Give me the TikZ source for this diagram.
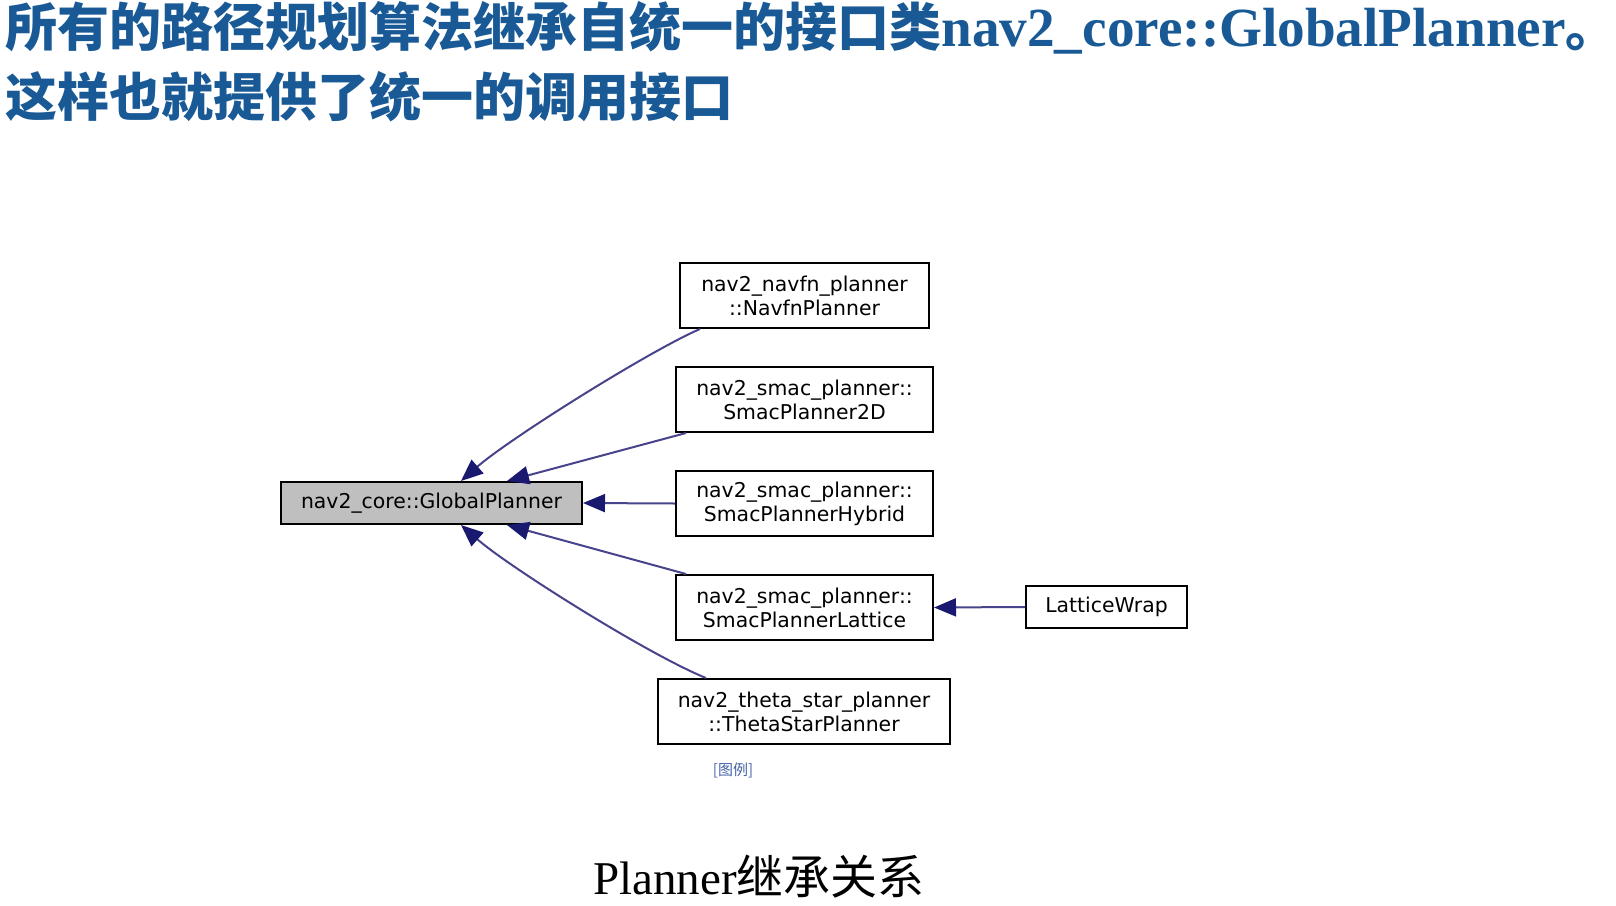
\documentclass[tikz,border=0pt]{standalone}
\usepackage{fontspec}
\setmainfont{Liberation Serif}
\newfontfamily\cjk{Noto Sans CJK SC}
\newfontfamily\dv{DejaVu Sans}
\usetikzlibrary{arrows.meta,calc}
\definecolor{titleblue}{RGB}{25,90,150}
\definecolor{edgec}{RGB}{72,68,140}
\definecolor{tipc}{RGB}{25,25,112}
\definecolor{gpfill}{RGB}{191,191,191}
\definecolor{legendc}{RGB}{70,100,170}
\begin{document}
\begin{tikzpicture}[x=0.5pt,y=-0.5pt,
  cls/.style={draw=black,line width=1pt,inner sep=0pt,align=center,
    font=\dv\fontsize{10.2}{11.9}\selectfont},
  two/.style={cls,minimum height=32.5pt},
  one/.style={cls,minimum height=21pt},
  inh/.style={draw=edgec,line width=1pt,-{Triangle[length=11pt,width=9pt,color=tipc]}},
]
\useasboundingbox (0,0) rectangle (1616,905);
\fill[white] (0,0) rectangle (1616,905);
% title
\node[anchor=base west,inner sep=0pt,text=titleblue] (t1) at (5,46)
  {\cjk\bfseries\fontsize{26}{30}\selectfont 所有的路径规划算法继承自统一的接口类{\rmfamily\bfseries\fontsize{27.6}{30}\selectfont nav2\_core::GlobalPlanner}。};
\node[anchor=base west,inner sep=0pt,text=titleblue] (t2) at (5,116)
  {\cjk\bfseries\fontsize{26}{30}\selectfont 这样也就提供了统一的调用接口};
% nodes
\node[one,fill=gpfill,minimum width=150.5pt] (gp) at (431.5,503) {nav2\_core::GlobalPlanner};
\node[two,minimum width=124.5pt] (nf) at (804.5,295.5) {nav2\_navfn\_planner\\::NavfnPlanner};
\node[two,minimum width=128.5pt] (s2d) at (804.5,399.5) {nav2\_smac\_planner::\\SmacPlanner2D};
\node[two,minimum width=128.5pt] (hy) at (804.5,503.5) {nav2\_smac\_planner::\\SmacPlannerHybrid};
\node[two,minimum width=128.5pt] (lat) at (804.5,607.5) {nav2\_smac\_planner::\\SmacPlannerLattice};
\node[two,minimum width=146pt] (th) at (804,711.5) {nav2\_theta\_star\_planner\\::ThetaStarPlanner};
\node[one,minimum width=80.5pt] (lw) at (1106.5,607) {LatticeWrap};
% edges
\draw[inh] ($(nf.south west)+(21,0)$) .. controls ($(nf.south west)+(-30,22)$) and ($(gp.north west)+(229,-42)$) .. ($(gp.north west)+(181,0)$);
\draw[inh] ($(s2d.south west)+(11,0)$) -- ($(gp.north west)+(227,0)$);
\draw[inh] (hy.west) -- (gp.east);
\draw[inh] ($(lat.north west)+(11,0)$) -- ($(gp.south west)+(227,0)$);
\draw[inh] ($(th.north west)+(49,0)$) .. controls ($(th.north west)+(-8,-23)$) and ($(gp.south west)+(229,42)$) .. ($(gp.south west)+(181,0)$);
\draw[inh] (lw.west) -- (lat.east);
% legend
\node[text=legendc,inner sep=0pt,font=\cjk\fontsize{7.5}{9}\selectfont] (leg) at (733,770) {[图例]};
% caption
\node[anchor=base,inner sep=0pt] (cap) at (759,894)
  {\fontsize{23.5}{26}\selectfont Planner{\cjk 继承关系}};
\end{tikzpicture}
\end{document}
